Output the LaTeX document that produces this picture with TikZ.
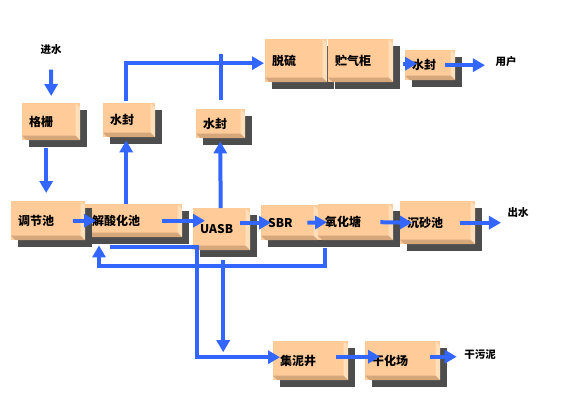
\documentclass[tikz,border=0pt]{standalone}
\usepackage{fontspec}
\newfontfamily\cjk{Noto Sans CJK SC}
\usetikzlibrary{arrows.meta,shadows,calc}
\definecolor{facepeach}{RGB}{255,204,153}
\definecolor{sidepeach}{RGB}{255,222,186}
\definecolor{basepeach}{RGB}{214,167,122}
\definecolor{shadowgray}{RGB}{77,77,77}
\definecolor{flowblue}{RGB}{51,102,255}
\tikzset{
  block/.style={rectangle, fill=facepeach, anchor=north west, align=left,
    inner xsep=7pt, inner ysep=0pt,
    font=\cjk\bfseries\fontsize{12}{14}\selectfont,
    drop shadow={shadow xshift=7pt, shadow yshift=-7pt, fill=shadowgray, opacity=1},
    path picture={
      \fill[sidepeach] ([xshift=-4.5pt]path picture bounding box.north east)
        -- ([yshift=-4.5pt]path picture bounding box.north east)
        -- (path picture bounding box.south east)
        -- ([xshift=-4.5pt,yshift=4.5pt]path picture bounding box.south east) -- cycle;
      \fill[basepeach] ([yshift=4.5pt]path picture bounding box.south west)
        -- ([xshift=-4.5pt,yshift=4.5pt]path picture bounding box.south east)
        -- (path picture bounding box.south east)
        -- ([xshift=4.5pt]path picture bounding box.south west) -- cycle;
    }},
  tag/.style={font=\cjk\bfseries\fontsize{10.5}{12}\selectfont},
  flow/.style={draw=flowblue, line width=4pt, -{Triangle[length=12pt,width=13pt]}},
  pipe/.style={draw=flowblue, line width=4pt}
}
\begin{document}
\begin{tikzpicture}[x=1pt,y=-1pt]
			\useasboundingbox (0,0) rectangle (567,416);

			% Gas line along the top
			\node[block, text width=44pt, minimum height=37pt] (geshan) at (22,103) {格栅};
			\node[block, text width=38pt, minimum height=34pt] (shuifengA) at (103,103) {水封};
			\node[block, text width=48pt, minimum height=43pt] (tuoliu) at (265,39) {脱硫};
			\node[block, text width=51pt, minimum height=43pt] (zhuqigui) at (328,39) {贮气柜};
			\node[block, text width=35pt, minimum height=29pt] (shuifengB) at (196,109) {水封};
			\node[block, text width=36pt, minimum height=30pt] (shuifengC) at (405,50) {水封};

			% Water line
			\node[block, text width=83pt, minimum height=33pt] (jiesuan) at (85,204) {解酸化池};
			\node[block, text width=60pt, minimum height=39pt] (tiaojie) at (11,201) {调节池};
			\node[block, text width=43pt, minimum height=42pt] (uasb) at (193,208) {UASB};
			\node[block, text width=43pt, minimum height=35pt] (sbr) at (261,205) {SBR};
			\node[block, text width=61pt, minimum height=36pt] (yanghua) at (318,204) {氧化塘};
			\node[block, text width=61pt, minimum height=43pt] (chensha) at (400,201) {沉砂池};

			% Sludge line
			\node[block, text width=61pt, minimum height=39pt] (jini) at (273,341) {集泥井};
			\node[block, text width=61pt, minimum height=39pt] (ganhua) at (365,341) {干化场};

			% Free labels
			\node[tag] (jinshui) at (51,50) {进水};
			\node[tag] (yonghu) at (506,62) {用户};
			\node[tag] (chushui) at (518,213) {出水};
			\node[tag] (ganwuni) at (480,355) {干污泥};

			\coordinate (gasline) at ([yshift=-2.5pt]tuoliu.west);
			\coordinate (ret) at ($(jiesuan.south west)+(14,29)$);

			% Draw flows
			\draw[flow] ([yshift=-11pt]jinshui.south) -- ([yshift=7pt]geshan.north);
			\draw[flow, shorten <=8pt, shorten >=8pt] ([xshift=-5pt]geshan.south) -- ([xshift=-2pt]tiaojie.north);
			\draw[flow] ([xshift=-12pt]tiaojie.east) -- ([xshift=11pt]jiesuan.west);
			\draw[flow] ([xshift=-7.5pt]jiesuan.north) -- ([xshift=-3pt,yshift=-3pt]shuifengA.south);
			\draw[flow] ([xshift=-3pt,yshift=2pt]shuifengA.north) |- ([xshift=-1pt]gasline);
			\draw[pipe] ([yshift=9pt]shuifengB.north) -- ([yshift=9pt]shuifengB.north |- gasline);
			\draw[flow] ([xshift=-1pt]uasb.north) -- ([xshift=-0.5pt,yshift=-3pt]shuifengB.south);
			\draw[flow] ($(jiesuan.east)+(-20,0)$) -- ($(uasb.west |- jiesuan.east)+(12,0)$);
			\draw[flow] ($(sbr.west -| uasb.east)+(-10,0)$) -- ([xshift=10pt]sbr.west);
			\draw[flow] ([xshift=-11pt]sbr.east) -- ([xshift=9pt]yanghua.west);
			\draw[flow] ([xshift=-13pt]yanghua.east) -- ([xshift=12pt]chensha.west);
			\draw[flow, shorten >=3pt] ([xshift=-15pt]chensha.east) -- (chensha.east -| chushui.west);
			\draw[flow] ($(zhuqigui.east |- shuifengC.west)+(10,-1.5)$) -- ($(shuifengC.west)+(12,-1.5)$);
			\draw[flow, shorten >=7pt] ([xshift=-10pt]shuifengC.east) -- (shuifengC.east -| yonghu.west);

			% Return and sludge pipes
			\draw[flow] ([xshift=7pt,yshift=-8pt]yanghua.south west) |- (ret) -- ($(jiesuan.south west)+(14,8)$);
			\draw[flow] ($(jiesuan.south west)+(25,10)$) -| ($(jini.west)+(-76,-3.5)$) -- ($(jini.west)+(7,-3.5)$);
			\draw[flow] ([xshift=1.5pt,yshift=-10pt]uasb.south) -- ($(uasb.south |- jini.west)+(1.5,-8.5)$);
			\draw[flow] ($(jini.east)+(-12,-4)$) -- ($(ganhua.west)+(15,-4)$);
			\draw[flow] ($(ganhua.east)+(-10,-4)$) -- ($(ganwuni.west |- ganhua.east)+(-4,-4)$);

		\end{tikzpicture}
\end{document}
